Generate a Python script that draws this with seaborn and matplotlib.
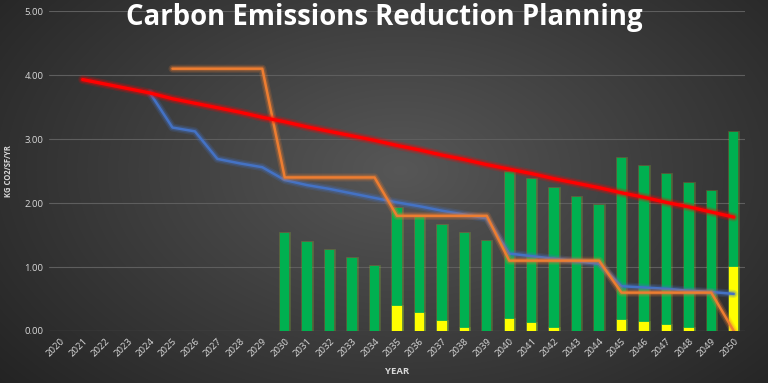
import numpy as np
import pandas as pd
import matplotlib
matplotlib.use("Agg")
import matplotlib.pyplot as plt
import matplotlib.patheffects as pe
import seaborn as sns

# ---- data ----
years = list(range(2020, 2051))

# stacked bars: yellow at the bottom, green on top
yellow = [0, 0, 0, 0, 0, 0, 0, 0, 0, 0,
          0.00, 0.00, 0.00, 0.00, 0.00,
          0.39, 0.28, 0.16, 0.04, 0.00,
          0.19, 0.12, 0.04, 0.00, 0.00,
          0.17, 0.14, 0.09, 0.05, 0.00,
          1.00]
green = [0, 0, 0, 0, 0, 0, 0, 0, 0, 0,
         1.53, 1.39, 1.27, 1.14, 1.02,
         1.53, 1.50, 1.50, 1.49, 1.41,
         2.29, 2.25, 2.19, 2.09, 1.97,
         2.53, 2.44, 2.36, 2.26, 2.19,
         2.11]

nan = np.nan
target = [nan, 3.93, 3.86, 3.79, 3.72, 3.63, 3.56, 3.49, 3.42, 3.34,
          3.27, 3.19, 3.12, 3.05, 2.98, 2.90, 2.83, 2.75, 2.68, 2.60,
          2.53, 2.46, 2.38, 2.31, 2.24, 2.16, 2.09, 2.01, 1.94, 1.86,
          1.78]
projected = [nan, nan, nan, nan, 3.72, 3.18, 3.12, 2.69, 2.62, 2.56,
             2.36, 2.28, 2.22, 2.15, 2.08, 2.01, 1.95, 1.88, 1.82, 1.76,
             1.21, 1.17, 1.13, 1.09, 1.05, 0.70, 0.68, 0.66, 0.63, 0.61,
             0.58]
limits = [nan, nan, nan, nan, nan, 4.10, 4.10, 4.10, 4.10, 4.10,
          2.40, 2.40, 2.40, 2.40, 2.40, 1.80, 1.80, 1.80, 1.80, 1.80,
          1.10, 1.10, 1.10, 1.10, 1.10, 0.60, 0.60, 0.60, 0.60, 0.60,
          0.00]

df = pd.DataFrame({"year": years, "yellow": yellow, "green": green,
                   "target": target, "projected": projected, "limits": limits})
df["total"] = df["yellow"] + df["green"]
df["idx"] = np.arange(len(df))

sns.set_theme(style="dark")
plt.rcParams["font.family"] = ["Open Sans", "DejaVu Sans"]

fig = plt.figure(figsize=(7.68, 3.83), dpi=100)

# radial dark-gray background
bg = fig.add_axes([0, 0, 1, 1], zorder=-10)
yy, xx = np.mgrid[0:383, 0:768]
r = np.sqrt(((xx - 400) / 520.0) ** 2 + ((yy - 170) / 330.0) ** 2)
shade = np.clip(0.34 - 0.20 * r, 0.11, 0.34)
bg.imshow(np.dstack([shade, shade, shade]), aspect="auto", extent=[0, 1, 0, 1])
bg.axis("off")

ax = fig.add_axes([0.0638, 0.1358, 0.9062, 0.8352])
ax.set_facecolor("none")

sns.barplot(data=df, x="idx", y="total", color="#00B050", width=0.42,
            saturation=1, ax=ax, native_scale=True, zorder=2)
sns.barplot(data=df, x="idx", y="yellow", color="#FFFF00", width=0.42,
            saturation=1, ax=ax, native_scale=True, zorder=3)
for p in ax.patches:
    p.set_linewidth(0)
    if p.get_height() > 0:
        p.set_path_effects([pe.Stroke(linewidth=2, foreground="#9acd32", alpha=0.25),
                            pe.Normal()])

def glow(c, w):
    return [pe.Stroke(linewidth=w + 4, foreground=c, alpha=0.18),
            pe.Stroke(linewidth=w + 2, foreground=c, alpha=0.3), pe.Normal()]

sns.lineplot(data=df, x="idx", y="projected", color="#4472C4", linewidth=1.8,
             ax=ax, zorder=4, path_effects=glow("#4472C4", 1.8))
sns.lineplot(data=df, x="idx", y="limits", color="#ED7D31", linewidth=1.8,
             ax=ax, zorder=5, path_effects=glow("#ED7D31", 1.8))
sns.lineplot(data=df, x="idx", y="target", color="#FF0000", linewidth=2.4,
             ax=ax, zorder=6, path_effects=glow("#FF0000", 2.4))

ax.set_xlim(-0.5, len(years) - 0.5)
ax.set_ylim(0, 5)
ax.set_yticks(np.arange(0, 5.01, 1))
ax.set_yticklabels([f"{v:.2f}" for v in np.arange(0, 5.01, 1)])
ax.set_xticks(df["idx"])
ax.set_xticklabels([str(y) for y in years], rotation=45, ha="right",
                   rotation_mode="anchor")
ax.tick_params(axis="both", colors="#d9d9d9", labelsize=6.8, length=0, pad=4)
ax.grid(axis="y", color="#5e5e5e", linewidth=0.8)
ax.grid(axis="x", visible=False)
for s in ax.spines.values():
    s.set_visible(False)
ax.axhline(0, color="#6a6a6a", linewidth=0.8, zorder=1)

ax.set_xlabel("YEAR", color="#d9d9d9", fontsize=6.8, fontweight="bold", labelpad=6)
ax.set_ylabel("KG CO2/SF/YR", color="#d9d9d9", fontsize=5.5, fontweight="bold", labelpad=8)

fig.text(0.5, 0.955, "Carbon Emissions Reduction Planning", color="white",
         fontsize=19.8, fontweight="bold", ha="center", va="center")

fig.savefig("out.png", dpi=100)
